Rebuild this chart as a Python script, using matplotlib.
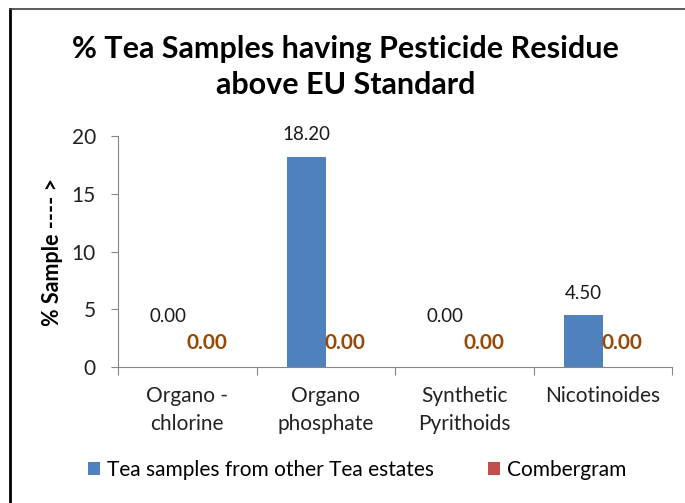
import numpy as np
import matplotlib.pyplot as plt
from matplotlib.lines import Line2D

plt.rcParams['font.family'] = ['Lato', 'DejaVu Sans']

categories = ['Organo -\nchlorine', 'Organo\nphosphate', 'Synthetic\nPyrithoids', 'Nicotinoides']
other_estates = [0.00, 18.20, 0.00, 4.50]
combergram = [0.00, 0.00, 0.00, 0.00]
series_names = ['Tea samples from other Tea estates', 'Combergram']

blue = '#4F81BD'
red = '#C0504D'
label_brown = '#984807'
axis_gray = '#868686'

fig = plt.figure(figsize=(6.85, 5.03), dpi=100)
ax = fig.add_axes([118/685, 1 - 367/503, (672 - 118)/685, (367 - 136)/503])

x = np.arange(len(categories))
w = 0.28
b1 = ax.bar(x - w/2, other_estates, w, color=blue, label=series_names[0])
b2 = ax.bar(x + w/2, combergram, w, color=red, label=series_names[1])

# value labels
for xi, v in zip(x, other_estates):
    off = 22 if v > 0 else 50
    ax.annotate(f'{v:.2f}', (xi - w/2, v), xytext=(0, off), textcoords='offset pixels',
                ha='center', va='center', fontsize=13.5, color='#1a1a1a')
for xi, v in zip(x, combergram):
    ax.annotate(f'{v:.2f}', (xi + w/2, v), xytext=(0, 24), textcoords='offset pixels',
                ha='center', va='center', fontsize=15, color=label_brown, fontweight='bold')

ax.set_xlim(-0.5, len(categories) - 0.5)
ax.set_ylim(0, 20)
ax.set_yticks([0, 5, 10, 15, 20])
ax.tick_params(axis='y', length=5, color=axis_gray, labelsize=15, labelcolor='#222222', pad=11)

ax.set_xticks(np.arange(len(categories) + 1) - 0.5)
ax.set_xticklabels([])
ax.set_xticks(x, minor=True)
ax.set_xticklabels(categories, minor=True, fontsize=15, color='#222222', linespacing=1.45)
ax.tick_params(axis='x', which='major', length=6, color=axis_gray)
ax.tick_params(axis='x', which='minor', length=0, pad=14)
for lab in ax.get_xticklabels(minor=True):
    lab.set_verticalalignment('top')

for s in ['top', 'right']:
    ax.spines[s].set_visible(False)
for s in ['left', 'bottom']:
    ax.spines[s].set_color(axis_gray)

ax.set_ylabel('% Sample ---- >', fontsize=15.5, fontweight='bold', va='center')
ax.yaxis.set_label_coords((53 - 118)/554, 0.5)

fig.text(0.505, 1 - 67/503, '% Tea Samples having Pesticide Residue\nabove EU Standard',
         ha='center', va='center', fontsize=22, fontweight='bold', linespacing=1.32)

fig.legend(handles=[b1, b2], loc='center', bbox_to_anchor=(357/685, 1 - 470/503), ncol=2,
           frameon=False, fontsize=15, handlelength=0.6, handleheight=0.6,
           handletextpad=0.3, columnspacing=2.6)

# outer frame (left and top edges)
fig.add_artist(Line2D([10/685, 10/685], [0, 1 - 9/503], transform=fig.transFigure,
                      color='black', lw=2))
fig.add_artist(Line2D([10/685, 1], [1 - 9/503, 1 - 9/503], transform=fig.transFigure,
                      color='#404040', lw=1.2))

fig.savefig('out.png', dpi=100)
